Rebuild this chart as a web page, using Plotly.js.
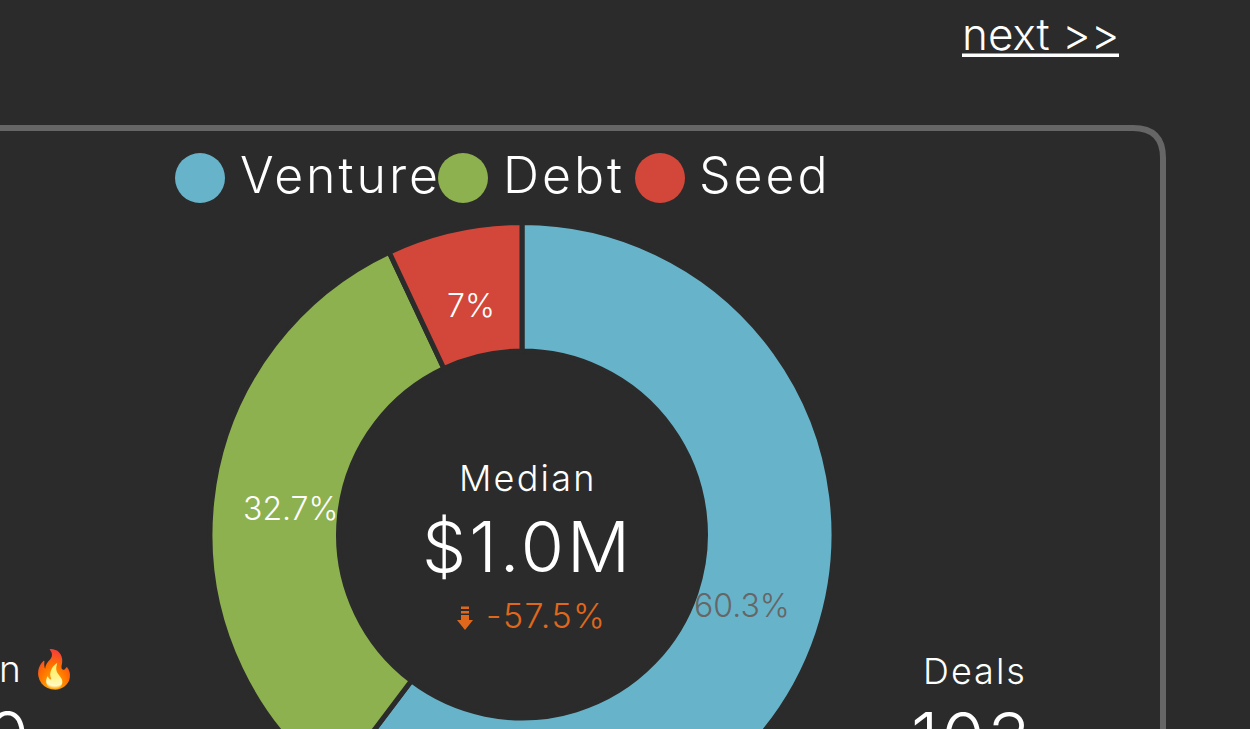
<!DOCTYPE html>
<html><head><meta charset="utf-8">
<script src="https://cdn.plot.ly/plotly-3.0.1.min.js"></script>
<style>html,body{margin:0;padding:0;background:#2b2b2b;overflow:hidden;width:1250px;height:729px}#c{width:1250px;height:1100px}</style>
</head><body><div id="c"></div>
<script>
const categories = ["Venture","Debt","Seed"];
const shares = [60.3,32.7,7];
const sliceColors = ["#67b4ca","#8db14f","#d3473a"];
const labelColors = ["#666666","#ffffff","#ffffff"];
const labelSpots = [[742,605],[291,508],[471,305]];
const legendDots = [200,463,660];
const legendText = [238,501,697];
const W=1250,H=1100,FF="Inter, Lato, sans-serif",BG="#2b2b2b";
const px=x=>x/W, py=y=>1-y/H;
function note(text,x,y,size,color,anchor,sp){
  const t = sp ? `<span style="letter-spacing:${sp}px">${text}</span>` : text;
  return {text:t,x:px(x),y:py(y),xref:"paper",yref:"paper",showarrow:false,xanchor:anchor||"center",yanchor:"middle",
    font:{family:FF,size:size,color:color||"#fff",weight:300}};
}
const annotations=[
  note("Median",528,477.5,36,"#fff","center",2.2),
  note("$1.0M",527,546,70,"#fff","center",3),
  note("-57.5%",545.5,615,34,"#e0681c","center",1.5),
  note("Deals",975,671,36,"#fff","center",2),
  note("103",972,737,70,"#fff","center",3),
  note("n 🔥",-3,668,37,"#fff","left"),
  note("0",-16,736,70,"#fff","left"),
  note("next >>",1040,34,44,"#fff")
];
categories.forEach((c,i)=>annotations.push(note(c,legendText[i],175,50,"#fff","left",3)));
shares.forEach((s,i)=>annotations.push(note(s+"%",labelSpots[i][0],labelSpots[i][1],32,labelColors[i])));
const shapes=[
 {type:"path",xref:"paper",yref:"paper",line:{color:"#666666",width:6},fillcolor:"rgba(0,0,0,0)",
  path:`M ${px(-20)} ${py(128)} L ${px(1133)} ${py(128)} Q ${px(1163)} ${py(128)} ${px(1163)} ${py(158)} L ${px(1163)} ${py(1000)}`},
 {type:"rect",xref:"paper",yref:"paper",x0:px(962),x1:px(1119),y0:py(53.5),y1:py(57),fillcolor:"#fff",line:{width:0}},
 {type:"path",xref:"paper",yref:"paper",fillcolor:"#e0681c",line:{width:0},
  path:`M ${px(457)} ${py(620)} L ${px(473)} ${py(620)} L ${px(465)} ${py(630)} Z M ${px(461)} ${py(615)} L ${px(469)} ${py(615)} L ${px(469)} ${py(620)} L ${px(461)} ${py(620)} Z M ${px(461)} ${py(611)} L ${px(469)} ${py(611)} L ${px(469)} ${py(613.5)} L ${px(461)} ${py(613.5)} Z M ${px(461)} ${py(606.5)} L ${px(469)} ${py(606.5)} L ${px(469)} ${py(609)} L ${px(461)} ${py(609)} Z`}
];
legendDots.forEach((x,i)=>shapes.push({type:"circle",xref:"paper",yref:"paper",x0:px(x-25),x1:px(x+25),y0:py(153),y1:py(203),fillcolor:sliceColors[i],line:{width:0}}));
Plotly.newPlot("c",[{
  type:"pie",labels:categories,values:shares,sort:false,direction:"clockwise",rotation:0,hole:0.588,
  marker:{colors:sliceColors,line:{color:BG,width:5}},
  textinfo:"none",showlegend:false,
  domain:{x:[210/W,834/W],y:[1-846.5/H,1-222.5/H]}
}],{
  width:W,height:H,margin:{l:0,r:0,t:0,b:0},paper_bgcolor:BG,plot_bgcolor:BG,showlegend:false,
  annotations:annotations,shapes:shapes
},{displayModeBar:false,staticPlot:true});
</script></body></html>
